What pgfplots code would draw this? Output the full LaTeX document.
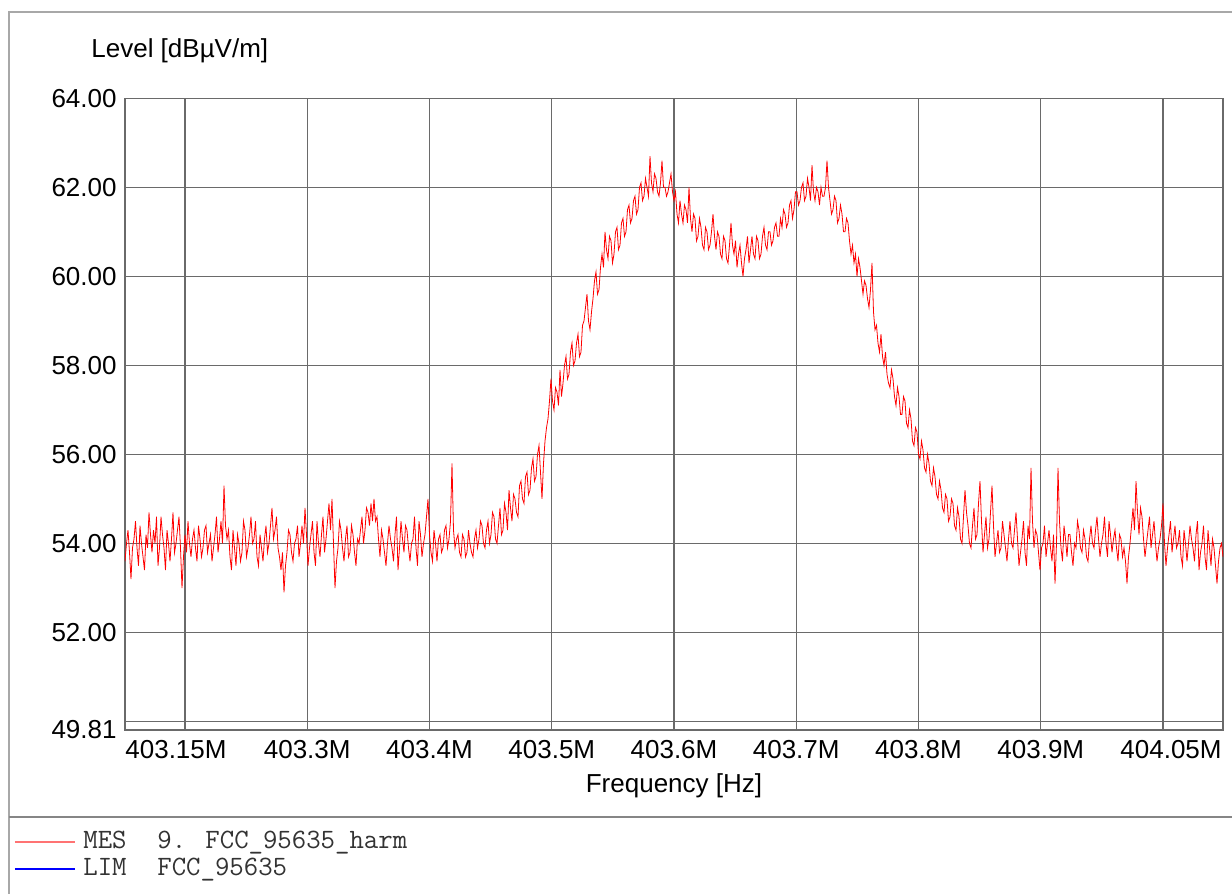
\documentclass[border=0pt]{standalone}
\usepackage{pgfplots}
\pgfplotsset{compat=1.18}
\usepackage{fontspec}
\setmainfont{Liberation Sans}
\definecolor{gridc}{HTML}{6A6A6A}
\definecolor{framec}{HTML}{A8A8A8}
\definecolor{legtxt}{HTML}{333333}
\begin{document}
\begin{tikzpicture}
\useasboundingbox (-62.5pt,-82pt) rectangle (553.5pt,365pt);
\begin{axis}[
  at={(0pt,0pt)}, anchor=south west,
  scale only axis, width=549pt, height=315.85pt,
  xmin=125, xmax=1223, ymin=49.81, ymax=64,
  xtick={185,307.25,429.5,551.75,674,796.25,918.5,1040.75,1163},
  xticklabels={},
  ytick={49.81,52,54,56,58,60,62,64},
  yticklabels={49.81,52.00,54.00,56.00,58.00,60.00,62.00,64.00},
  extra y ticks={50}, extra y tick labels={},
  extra y tick style={grid=major},
  yticklabel style={font=\fontsize{13}{15}\selectfont, anchor=east, inner sep=0pt, xshift=-4pt},
  major tick length=0pt,
  grid=major,
  major grid style={draw=gridc, line width=0.6pt},
  axis line style={draw=gridc, line width=0.7pt},
]
\addplot[color=red, line width=0.4pt] coordinates {
(125,53.6) (126.5,54.0) (128,54.3) (129.5,53.8) (131,53.2) (132.5,53.9) (134,54.1) (135.5,54.5) (137,53.9) (138.5,53.5)
(140,54.4) (141.5,54.0) (143,53.7) (144.5,53.4) (146,54.2) (147.5,53.9) (149,54.7) (150.5,54.2) (152,53.8) (153.5,54.3)
(155,54.0) (156.5,54.6) (158,53.5) (159.5,53.9) (161,54.6) (162.5,54.2) (164,53.9) (165.5,53.4) (167,54.3) (168.5,54.0)
(170,53.6) (171.5,54.1) (173,54.7) (174.5,53.8) (176,54.0) (177.5,54.3) (179,54.6) (180.5,53.9) (182,53.0) (183.5,53.7)
(185,54.2) (186.5,53.8) (188,54.5) (189.5,54.0) (191,53.7) (192.5,54.1) (194,54.3) (195.5,53.9) (197,53.6) (198.5,54.4)
(200,54.1) (201.5,53.7) (203,53.9) (204.5,54.3) (206,54.4) (207.5,53.8) (209,54.0) (210.5,54.2) (212,53.6) (213.5,53.9)
(215,54.2) (216.5,54.6) (218,53.8) (219.5,54.1) (221,54.5) (222.5,54.0) (224,55.3) (225.5,54.4) (227,54.1) (228.5,54.3)
(230,53.7) (231.5,53.4) (233,54.3) (234.5,53.9) (236,53.5) (237.5,54.2) (239,54.0) (240.5,53.6) (242,53.8) (243.5,54.5)
(245,54.3) (246.5,53.7) (248,53.9) (249.5,54.2) (251,54.6) (252.5,54.0) (254,54.1) (255.5,54.5) (257,53.7) (258.5,53.5)
(260,54.2) (261.5,53.9) (263,53.6) (264.5,54.1) (266,54.4) (267.5,53.8) (269,54.0) (270.5,54.4) (272,54.8) (273.5,54.1)
(275,54.3) (276.5,54.6) (278,53.9) (279.5,53.7) (281,53.4) (282.5,53.8) (284,52.9) (285.5,53.5) (287,53.8) (288.5,54.3)
(290,54.2) (291.5,53.8) (293,53.6) (294.5,54.0) (296,54.1) (297.5,54.4) (299,53.7) (300.5,54.0) (302,54.4) (303.5,54.0)
(305,54.8) (306.5,54.2) (308,53.5) (309.5,53.9) (311,54.2) (312.5,54.5) (314,53.8) (315.5,53.5) (317,54.5) (318.5,54.0)
(320,53.7) (321.5,54.2) (323,54.6) (324.5,53.8) (326,54.1) (327.5,54.5) (329,54.9) (330.5,54.3) (332,55.0) (333.5,54.0)
(335,53.0) (336.5,53.6) (338,53.9) (339.5,54.5) (341,54.3) (342.5,53.9) (344,53.6) (345.5,54.1) (347,54.4) (348.5,53.7)
(350,53.8) (351.5,54.4) (353,54.2) (354.5,53.8) (356,53.5) (357.5,54.1) (359,54.0) (360.5,54.3) (362,54.6) (363.5,54.0)
(365,54.3) (366.5,54.8) (368,54.7) (369.5,54.4) (371,54.9) (372.5,54.5) (374,55.0) (375.5,54.5) (377,54.6) (378.5,54.1)
(380,53.7) (381.5,54.3) (383,54.1) (384.5,53.8) (386,53.5) (387.5,54.0) (389,54.4) (390.5,54.1) (392,53.9) (393.5,53.6)
(395,54.2) (396.5,54.6) (398,53.4) (399.5,53.9) (401,54.5) (402.5,54.1) (404,53.8) (405.5,54.4) (407,54.3) (408.5,53.9)
(410,53.6) (411.5,54.0) (413,54.1) (414.5,54.6) (416,53.9) (417.5,53.5) (419,54.5) (420.5,54.2) (422,53.7) (423.5,54.0)
(425,54.2) (426.5,54.6) (428,55.0) (429.5,54.2) (431,53.8) (432.5,53.6) (434,54.3) (435.5,54.0) (437,53.6) (438.5,54.1)
(440,54.2) (441.5,53.8) (443,53.9) (444.5,54.3) (446,54.4) (447.5,53.9) (449,54.1) (450.5,54.5) (452,55.8) (453.5,54.3)
(455,53.9) (456.5,54.1) (458,54.2) (459.5,53.8) (461,53.7) (462.5,54.2) (464,54.1) (465.5,53.7) (467,53.8) (468.5,54.3)
(470,54.0) (471.5,53.8) (473,53.7) (474.5,54.1) (476,54.3) (477.5,53.9) (479,54.1) (480.5,54.5) (482,54.4) (483.5,54.0)
(485,53.9) (486.5,54.3) (488,54.5) (489.5,54.0) (491,54.2) (492.5,54.7) (494,54.6) (495.5,54.1) (497,54.0) (498.5,54.4)
(500,54.8) (501.5,54.2) (503,54.3) (504.5,54.9) (506,54.7) (507.5,54.3) (509,55.2) (510.5,54.8) (512,54.5) (513.5,55.1)
(515,55.0) (516.5,54.7) (518,54.6) (519.5,55.3) (521,55.4) (522.5,55.0) (524,54.9) (525.5,55.5) (527,55.6) (528.5,55.1)
(530,55.2) (531.5,55.7) (533,55.9) (534.5,55.4) (536,55.5) (537.5,56.0) (539,56.2) (540.5,55.6) (542,55.0) (543.5,55.8)
(545,56.3) (546.5,56.6) (548,56.8) (549.5,57.2) (551,57.7) (552.5,57.2) (554,57.0) (555.5,57.5) (557,57.4) (558.5,57.1)
(560,57.9) (561.5,57.3) (563,57.6) (564.5,58.0) (566,58.2) (567.5,57.7) (569,57.8) (570.5,58.3) (572,58.5) (573.5,58.0)
(575,58.1) (576.5,58.5) (578,58.7) (579.5,58.2) (581,58.3) (582.5,58.9) (584,59.0) (585.5,59.3) (587,59.6) (588.5,59.0)
(590,58.8) (591.5,59.2) (593,59.5) (594.5,59.9) (596,60.1) (597.5,59.6) (599,59.7) (600.5,60.2) (602,60.5) (603.5,60.2)
(605,61.0) (606.5,60.6) (608,60.4) (609.5,60.9) (611,60.8) (612.5,60.3) (614,60.5) (615.5,61.0) (617,61.1) (618.5,60.6)
(620,60.7) (621.5,61.2) (623,61.3) (624.5,60.9) (626,61.0) (627.5,61.5) (629,61.6) (630.5,61.2) (632,61.3) (633.5,61.7)
(635,61.8) (636.5,61.4) (638,61.5) (639.5,62.0) (641,62.1) (642.5,61.7) (644,61.8) (645.5,62.2) (647,62.0) (648.5,61.8)
(650,62.7) (651.5,62.1) (653,61.9) (654.5,62.3) (656,62.2) (657.5,61.9) (659,61.8) (660.5,62.1) (662,62.6) (663.5,62.0)
(665,62.0) (666.5,61.8) (668,61.9) (669.5,62.1) (671,62.3) (672.5,61.9) (674,61.7) (675.5,61.9) (677,61.4) (678.5,61.2)
(680,61.7) (681.5,61.4) (683,61.2) (684.5,61.6) (686,61.5) (687.5,61.2) (689,62.0) (690.5,61.3) (692,61.0) (693.5,61.4)
(695,61.3) (696.5,60.8) (698,60.9) (699.5,61.3) (701,61.1) (702.5,60.7) (704,60.6) (705.5,61.1) (707,61.0) (708.5,60.6)
(710,60.7) (711.5,61.0) (713,61.4) (714.5,60.9) (716,60.6) (717.5,61.0) (719,60.9) (720.5,60.5) (722,60.4) (723.5,60.9)
(725,60.8) (726.5,60.4) (728,60.3) (729.5,60.7) (731,61.2) (732.5,60.7) (734,60.5) (735.5,60.8) (737,60.2) (738.5,60.5)
(740,60.7) (741.5,60.3) (743,60.0) (744.5,60.4) (746,60.6) (747.5,60.9) (749,60.3) (750.5,60.6) (752,60.9) (753.5,60.5)
(755,60.4) (756.5,60.9) (758,60.8) (759.5,60.4) (761,60.5) (762.5,60.9) (764,61.1) (765.5,60.7) (767,60.6) (768.5,61.0)
(770,61.0) (771.5,60.7) (773,60.8) (774.5,61.1) (776,61.2) (777.5,60.9) (779,60.9) (780.5,61.3) (782,61.1) (783.5,61.5)
(785,61.4) (786.5,61.1) (788,61.2) (789.5,61.6) (791,61.7) (792.5,61.3) (794,61.5) (795.5,61.9) (797,61.9) (798.5,61.6)
(800,61.7) (801.5,62.0) (803,62.1) (804.5,61.7) (806,61.8) (807.5,62.2) (809,62.0) (810.5,61.7) (812,62.5) (813.5,61.9)
(815,61.7) (816.5,62.0) (818,61.9) (819.5,61.6) (821,62.0) (822.5,61.8) (824,61.8) (825.5,62.0) (827,62.6) (828.5,62.0)
(830,61.7) (831.5,61.4) (833,61.5) (834.5,61.8) (836,61.7) (837.5,61.2) (839,61.3) (840.5,61.6) (842,61.4) (843.5,61.0)
(845,61.0) (846.5,61.3) (848,61.2) (849.5,60.8) (851,60.5) (852.5,60.7) (854,60.3) (855.5,60.5) (857,60.0) (858.5,60.4)
(860,60.2) (861.5,59.9) (863,59.6) (864.5,59.9) (866,59.8) (867.5,59.5) (869,59.3) (870.5,59.7) (872,60.3) (873.5,59.2)
(875,58.8) (876.5,58.9) (878,58.5) (879.5,58.3) (881,58.7) (882.5,58.2) (884,58.0) (885.5,58.3) (887,57.8) (888.5,57.6)
(890,57.5) (891.5,57.9) (893,57.7) (894.5,57.3) (896,57.1) (897.5,57.5) (899,57.3) (900.5,56.9) (902,56.9) (903.5,57.3)
(905,57.2) (906.5,56.7) (908,56.6) (909.5,57.0) (911,56.8) (912.5,56.3) (914,56.2) (915.5,56.6) (917,56.5) (918.5,56.0)
(920,55.9) (921.5,56.3) (923,56.1) (924.5,55.7) (926,55.6) (927.5,56.0) (929,55.8) (930.5,55.4) (932,55.3) (933.5,55.7)
(935,55.5) (936.5,55.1) (938,55.0) (939.5,55.4) (941,55.2) (942.5,54.8) (944,54.7) (945.5,55.1) (947,55.0) (948.5,54.5)
(950,54.6) (951.5,55.0) (953,54.9) (954.5,54.4) (956,54.3) (957.5,54.8) (959,54.6) (960.5,54.1) (962,54.0) (963.5,54.6)
(965,55.2) (966.5,54.7) (968,54.4) (969.5,54.0) (971,53.9) (972.5,54.4) (974,54.8) (975.5,54.1) (977,54.2) (978.5,54.9)
(980,55.4) (981.5,54.5) (983,53.8) (984.5,54.2) (986,54.6) (987.5,53.9) (989,54.1) (990.5,54.7) (992,55.3) (993.5,54.4)
(995,53.7) (996.5,54.0) (998,54.3) (999.5,53.8) (1001,53.9) (1002.5,54.5) (1004,54.2) (1005.5,53.9) (1007,53.6) (1008.5,54.1)
(1010,54.5) (1011.5,54.0) (1013,53.9) (1014.5,54.3) (1016,54.7) (1017.5,54.1) (1019,53.5) (1020.5,53.8) (1022,54.1) (1023.5,54.5)
(1025,53.8) (1026.5,53.5) (1028,54.4) (1029.5,54.1) (1031,55.7) (1032.5,54.5) (1034,53.9) (1035.5,54.3) (1037,54.2) (1038.5,53.8)
(1040,53.4) (1041.5,53.9) (1043,54.0) (1044.5,54.4) (1046,53.7) (1047.5,54.0) (1049,54.3) (1050.5,53.9) (1052,53.6) (1053.5,54.2)
(1055,53.1) (1056.5,54.0) (1058,55.7) (1059.5,54.5) (1061,53.9) (1062.5,53.6) (1064,54.4) (1065.5,54.1) (1067,53.7) (1068.5,54.2)
(1070,54.2) (1071.5,53.8) (1073,53.5) (1074.5,54.0) (1076,53.9) (1077.5,54.5) (1079,54.3) (1080.5,53.9) (1082,53.8) (1083.5,54.3)
(1085,54.1) (1086.5,53.7) (1088,53.6) (1089.5,54.1) (1091,54.4) (1092.5,54.0) (1094,53.9) (1095.5,54.3) (1097,54.6) (1098.5,54.1)
(1100,53.7) (1101.5,54.0) (1103,54.2) (1104.5,54.6) (1106,54.0) (1107.5,53.7) (1109,54.5) (1110.5,54.2) (1112,53.8) (1113.5,54.1)
(1115,54.3) (1116.5,53.9) (1118,53.6) (1119.5,54.2) (1121,54.1) (1122.5,53.7) (1124,53.9) (1125.5,53.6) (1127,53.1) (1128.5,53.7)
(1130,54.0) (1131.5,54.4) (1133,54.8) (1134.5,54.3) (1136,55.4) (1137.5,54.7) (1139,54.2) (1140.5,54.8) (1142,54.6) (1143.5,54.1)
(1145,53.7) (1146.5,54.0) (1148,54.3) (1149.5,54.6) (1151,53.9) (1152.5,54.2) (1154,54.5) (1155.5,54.0) (1157,53.6) (1158.5,53.9)
(1160,54.1) (1161.5,54.4) (1163,54.9) (1164.5,54.0) (1166,53.5) (1167.5,53.9) (1169,54.2) (1170.5,54.5) (1172,53.8) (1173.5,54.1)
(1175,54.4) (1176.5,53.9) (1178,54.0) (1179.5,54.3) (1181,53.7) (1182.5,53.5) (1184,54.3) (1185.5,54.0) (1187,53.6) (1188.5,54.0)
(1190,54.4) (1191.5,54.1) (1193,53.9) (1194.5,53.6) (1196,54.2) (1197.5,54.5) (1199,53.4) (1200.5,53.8) (1202,54.0) (1203.5,54.4)
(1205,53.7) (1206.5,53.4) (1208,54.3) (1209.5,53.9) (1211,53.5) (1212.5,54.1) (1214,53.9) (1215.5,53.5) (1217,53.1) (1218.5,53.6)
(1220,53.9) (1221.5,54.0) (1223,53.7)
};
\end{axis}
% x tick labels
\begin{scope}[every node/.style={font=\fontsize{13}{15}\selectfont, inner sep=0pt}]
\node[anchor=base west] at (0pt,-14.5pt) {403.15M};
\node[anchor=base] at (91.1pt,-14.5pt) {403.3M};
\node[anchor=base] at (152.25pt,-14.5pt) {403.4M};
\node[anchor=base] at (213.4pt,-14.5pt) {403.5M};
\node[anchor=base] at (274.5pt,-14.5pt) {403.6M};
\node[anchor=base] at (335.6pt,-14.5pt) {403.7M};
\node[anchor=base] at (396.75pt,-14.5pt) {403.8M};
\node[anchor=base] at (457.9pt,-14.5pt) {403.9M};
\node[anchor=base east] at (548.5pt,-14.5pt) {404.05M};
\node[anchor=base] at (274.5pt,-31.5pt) {Frequency [Hz]};
\node[anchor=base west] at (-17pt,336.3pt) {Level [dBµV/m]};
\end{scope}
% frame
\draw[framec, line width=0.8pt] (-58pt,-82pt) -- (-58pt,359pt) -- (553.5pt,359pt);
\draw[framec!80!black, line width=0.7pt] (-58pt,-43.5pt) -- (553.5pt,-43.5pt);
% legend
\draw[red!55, line width=0.6pt] (-55pt,-56pt) -- (-25pt,-56pt);
\draw[blue, line width=0.6pt] (-55pt,-69.5pt) -- (-25pt,-69.5pt);
\begin{scope}[every node/.style={font=\ttfamily\fontsize{14}{16}\selectfont, inner sep=0pt, text=legtxt}]
\node[anchor=base west] at (-21pt,-59.5pt) {MES};
\node[anchor=base west] at (16pt,-59.5pt) {9. FCC\_95635\_harm};
\node[anchor=base west] at (-21pt,-73pt) {LIM};
\node[anchor=base west] at (16pt,-73pt) {FCC\_95635};
\end{scope}
\end{tikzpicture}
\end{document}
